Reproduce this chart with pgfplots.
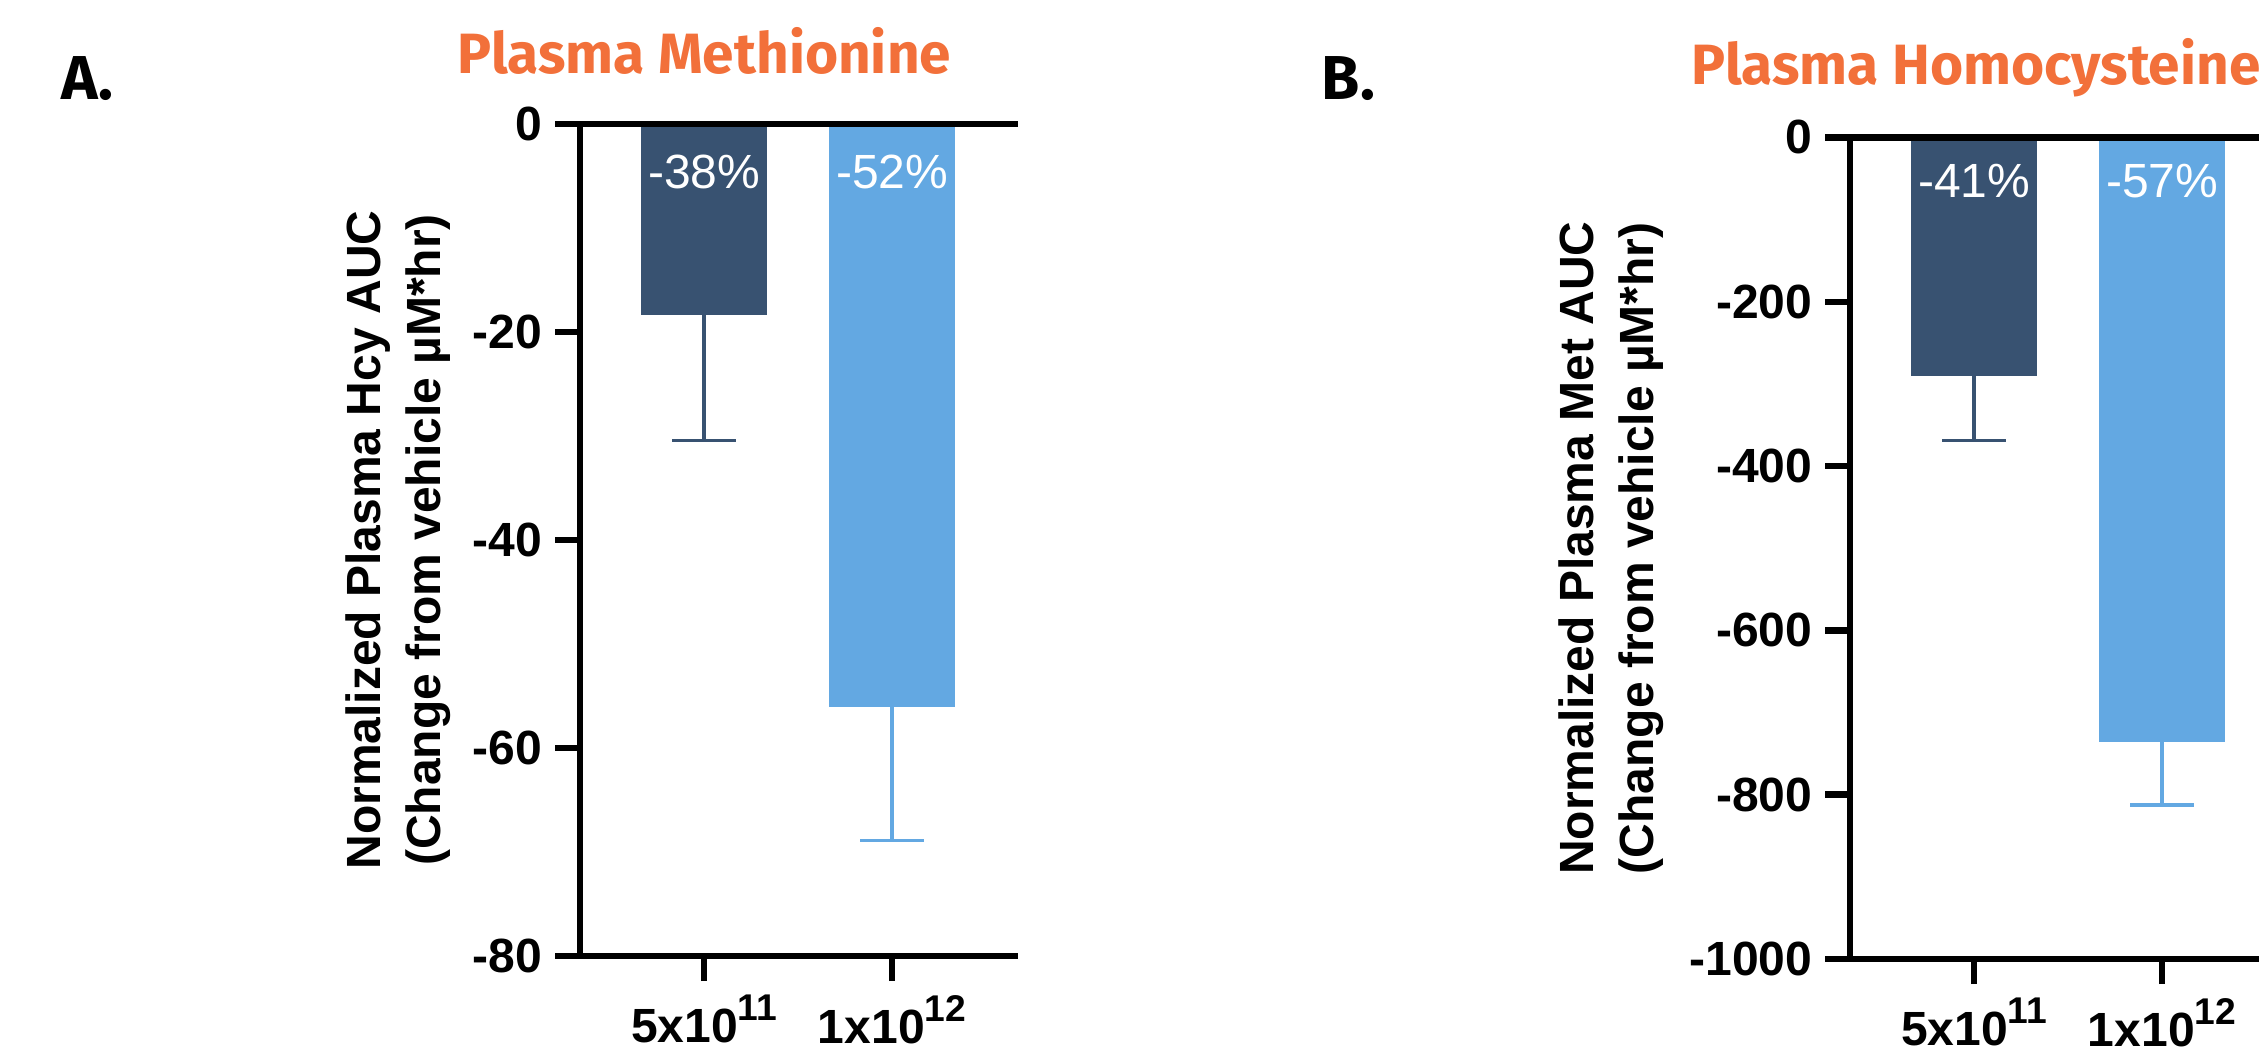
\documentclass[border=0pt]{standalone}
\usepackage{fontspec}
\setmainfont{Liberation Sans}
\newfontfamily\titlefont{Fira Sans}
\usepackage{pgfplots}
\pgfplotsset{compat=1.18}
\definecolor{darkbar}{RGB}{56,82,113}
\definecolor{lightbar}{RGB}{99,168,226}
\definecolor{titleorange}{RGB}{242,112,58}
\newcommand\sups[1]{\raisebox{5.5pt}{\fontsize{9.3}{9.3}\selectfont\bfseries #1}}

\pgfplotsset{
  prism/.style={
    scale only axis, width=109.5pt,
    xmin=-0.66, xmax=1.67,
    axis x line*=bottom, axis y line*=left,
    axis line style={line width=1.6pt, black},
    tick align=outside, major tick length=6.25pt,
    tick style={line width=1.6pt, black},
    xtick={0,1},
    xticklabels={5x10\sups{11}, 1x10\sups{12}},
    tick label style={font=\bfseries\fontsize{12}{14}\selectfont},
    yticklabel style={inner sep=3pt},
    clip=false,
  },
  ylab/.style={every axis y label/.style={at={([xshift=-#1]axis description cs:0,0.5)}, rotate=90, anchor=center, align=center, font=\bfseries\fontsize{12}{15}\selectfont, inner sep=0pt}},
  pbar/.style={ybar, bar width=0.667, bar shift=0pt, fill=#1, draw=none,
    error bars/.cd, y dir=minus, y explicit, error mark=|,
    error bar style={line width=0.8pt, draw=#1},
    error mark options={mark size=7.9pt, line width=0.8pt, draw=#1}},
}

\begin{document}
\begin{tikzpicture}
\useasboundingbox (0,0) rectangle (564.75pt,263.5pt);
\clip (0,0) rectangle (564.75pt,263.5pt);

% panel letters and titles
\node[anchor=base west, inner sep=0pt, font=\titlefont\bfseries\fontsize{15.5}{18}\selectfont] at (15.25pt,238.7pt) {A.};
\node[anchor=base west, inner sep=0pt, font=\titlefont\bfseries\fontsize{15.5}{18}\selectfont] at (330.25pt,238.7pt) {B.};
\node[anchor=base, inner sep=0pt, text=titleorange, font=\titlefont\bfseries\fontsize{14.2}{17}\selectfont] at (176.1pt,245.2pt) {Plasma Methionine};
\node[anchor=base, inner sep=0pt, text=titleorange, font=\titlefont\bfseries\fontsize{14.2}{17}\selectfont] at (494pt,242.5pt) {Plasma Homocysteine};

% Panel A
\begin{axis}[prism, ylab=45.5pt, at={(145pt,24.5pt)}, anchor=south west, height=208pt,
  ymin=-80, ymax=0, ytick={-80,-60,-40,-20,0},
  yticklabels={-80,-60,-40,-20,0},
  ylabel={Normalized Plasma Hcy AUC\\(Change from vehicle µM*hr)}]
  \addplot[pbar=darkbar] coordinates {(0,-18.4) +- (0,12.0)};
  \addplot[pbar=lightbar] coordinates {(1,-56.1) +- (0,12.8)};
  \draw[line width=1.6pt] (rel axis cs:0,1) -- (rel axis cs:1,1);
  \node[text=white, anchor=base, inner sep=0pt, font=\fontsize{12}{14}\selectfont] at ([yshift=-16pt]axis cs:0,0) {-38\%};
  \node[text=white, anchor=base, inner sep=0pt, font=\fontsize{12}{14}\selectfont] at ([yshift=-16pt]axis cs:1,0) {-52\%};
\end{axis}

% Panel B
\begin{axis}[prism, ylab=59.75pt, at={(462.5pt,23.75pt)}, anchor=south west, height=205.4pt,
  ymin=-1000, ymax=0, ytick={-1000,-800,-600,-400,-200,0},
  yticklabels={-1000,-800,-600,-400,-200,0},
  ylabel={Normalized Plasma Met AUC\\(Change from vehicle µM*hr)}]
  \addplot[pbar=darkbar] coordinates {(0,-291) +- (0,78)};
  \addplot[pbar=lightbar] coordinates {(1,-735.5) +- (0,77)};
  \draw[line width=1.6pt] (rel axis cs:0,1) -- (rel axis cs:1,1);
  \node[text=white, anchor=base, inner sep=0pt, font=\fontsize{12}{14}\selectfont] at ([yshift=-15.1pt]axis cs:0,0) {-41\%};
  \node[text=white, anchor=base, inner sep=0pt, font=\fontsize{12}{14}\selectfont] at ([yshift=-15.1pt]axis cs:1,0) {-57\%};
\end{axis}
\end{tikzpicture}
\end{document}
